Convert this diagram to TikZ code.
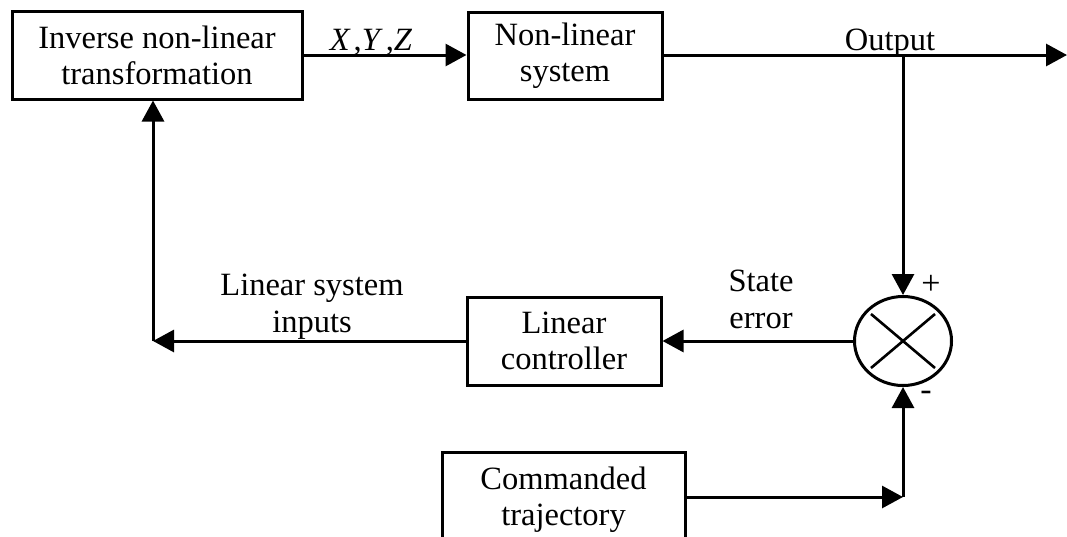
\documentclass[tikz,border=0pt]{standalone}
\usepackage{fontspec}
\setmainfont{Liberation Serif}
\usetikzlibrary{arrows.meta,shapes.geometric,calc}
\begin{document}
\begin{tikzpicture}[x=1pt,y=-1pt,
  line width=3pt,
  blk/.style={draw, line width=3pt, inner sep=0pt, align=center, font=\fontsize{32.5}{36}\selectfont},
  lbl/.style={inner sep=0pt, align=center, font=\fontsize{32.5}{37}\selectfont},
  arr/.style={-{Triangle[length=21pt,width=22pt]}},
  sgn/.style={inner sep=0pt, font=\fontsize{34}{34}\selectfont}]
\useasboundingbox (0,0) rectangle (1067,536);
\clip (0,0) rectangle (1067,536);
% blocks
\node[blk, minimum width=290pt, minimum height=88pt] (inv) at (157,55) {Inverse non-linear\\transformation};
\node[blk, minimum width=194pt, minimum height=87pt] (nls) at (565,55.5) {Non-linear\\system};
\node[blk, minimum width=194pt, minimum height=88pt] (ctrl) at (564,341) {Linear\\controller};
\node[blk, minimum width=243pt, minimum height=96pt] (cmd) at (563.5,500) {Commanded\\trajectory};
\node[draw, ellipse, line width=3pt, minimum width=97pt, minimum height=89pt, inner sep=0pt] (sum) at (903,341) {};
\draw[line width=2.6pt] ($(sum.center)+(-32,-27)$) -- ($(sum.center)+(32,27)$);
\draw[line width=2.6pt] ($(sum.center)+(32,-27)$) -- ($(sum.center)+(-32,27)$);
% coordinates
\coordinate (outend) at (1067,55);
\coordinate (jn) at (903,55);
\coordinate (fb) at (153,341);
\coordinate (cj) at (903,497);
% connectors
\draw[arr] (inv.east |- 0,55) -- (nls.west |- 0,55);
\draw[arr] (nls.east |- outend) -- (outend);
\draw[arr] (jn) -- (sum.north);
\draw[arr] (sum.west) -- (ctrl.east);
\draw[arr] (ctrl.west) -- (fb);
\draw[arr] (fb) -- (fb |- inv.south);
\draw[arr] (cj -| cmd.east) -- (cj);
\draw[arr] (cj) -- (sum.south);
% labels
\node[lbl, anchor=base] (xyz) at (371,50) {\textit{X}\hspace{3pt},\textit{Y}\hspace{3pt},\textit{Z}};
\node[lbl, anchor=base] (outl) at (890,50) {Output};
\node[lbl] (lsi) at (312,307) {Linear system\\inputs};
\node[lbl] (ste) at (761,299) {State\\error};
\node[sgn] (plus) at (931,285) {+};
\node[sgn] (minus) at (926,396) {-};
\end{tikzpicture}
\end{document}
